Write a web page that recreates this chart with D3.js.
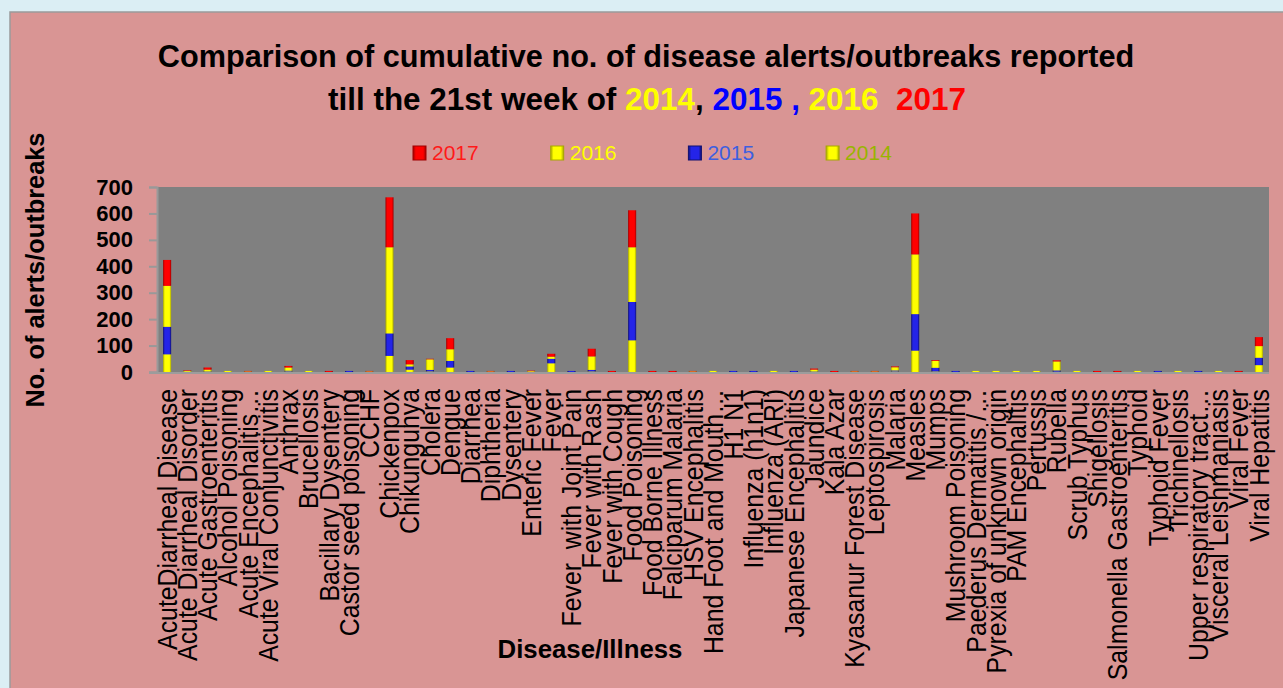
<!DOCTYPE html>
<html lang="en">
<head>
<meta charset="UTF-8" />
<title>Disease alerts/outbreaks till week 21</title>
<script src="https://d3js.org/d3.v7.min.js"></script>
<style>
  body, html { margin: 0; padding: 0; background: #dbeef4; }
  text { font-family: "Liberation Sans", Arial, sans-serif; }
</style>
</head>
<body>
<div id="chart"></div>
<script>
const categories = [
  "AcuteDiarrheal Disease", "Acute Diarrheal Disorder", "Acute Gastroenteritis", "Alcohol Poisoning",
  "Acute Encephalitis\u2026", "Acute Viral Conjunctivitis", "Anthrax", "Brucellosis",
  "Bacillary Dysentery", "Castor seed poisoning", "CCHF", "Chickenpox", "Chikungunya", "Cholera",
  "Dengue", "Diarrhea", "Diphtheria", "Dysentery", "Enteric Fever", "Fever", "Fever  with Joint Pain",
  "Fever with Rash", "Fever with Cough", "Food Poisoning", "Food Borne Illness", "Falciparum Malaria",
  "HSV Encephalitis", "Hand Foot and Mouth\u2026", "H1 N1", "Influenza (h1n1)", "Influenza (ARI)",
  "Japanese Encephalitis", "Jaundice", "Kala Azar", "Kyasanur Forest Disease", "Leptospirosis",
  "Malaria", "Measles", "Mumps", "Mushroom Poisoning", "Paederus Dermatitis /\u2026",
  "Pyrexia of unknown origin", "PAM Encephalitis", "Pertussis", "Rubella", "Scrub Typhus",
  "Shigellosis", "Salmonella Gastroenteritis", "Typhoid", "Typhoid Fever", "Trichinellosis",
  "Upper respiratory tract\u2026", "Visceral Leishmaniasis", "Viral Fever", "Viral Hepatitis"
];

const years = ["2014", "2015", "2016", "2017"];

const values2014 = [67, 2, 2, 0, 0, 0, 2, 0, 0, 0, 0, 61, 9, 2, 17, 0, 0, 0, 0, 33, 0, 2, 0, 120, 0, 0, 0, 0, 0, 0, 0, 0, 2, 0, 0, 0, 2, 81, 2, 0, 0, 0, 0, 0, 1, 0, 0, 0, 0, 0, 0, 0, 0, 0, 26];
const values2015 = [104, 0, 1, 0, 0, 0, 3, 0, 0, 4, 0, 85, 12, 6, 25, 4, 0, 4, 0, 17, 4, 6, 0, 145, 0, 0, 0, 0, 4, 4, 0, 4, 1, 0, 0, 0, 4, 138, 14, 4, 0, 0, 0, 0, 5, 0, 0, 0, 0, 4, 0, 4, 0, 0, 28];
const values2016 = [155, 2, 6, 4, 2, 4, 12, 4, 0, 0, 2, 326, 8, 40, 44, 0, 2, 0, 3, 8, 0, 51, 0, 207, 0, 0, 2, 4, 0, 0, 4, 0, 6, 0, 2, 2, 12, 226, 26, 0, 4, 4, 4, 4, 34, 4, 0, 0, 4, 0, 4, 0, 4, 0, 44];
const values2017 = [98, 2, 8, 0, 2, 0, 6, 0, 4, 0, 2, 189, 16, 2, 42, 0, 2, 0, 2, 11, 0, 29, 4, 140, 4, 4, 2, 0, 0, 0, 0, 0, 4, 4, 2, 2, 3, 155, 3, 0, 0, 0, 0, 0, 4, 0, 4, 4, 0, 0, 0, 0, 0, 4, 34];

const yTicks = [0, 100, 200, 300, 400, 500, 600, 700];

const seriesColors = {
  "2014": { base: "#ffff00", dark: "#a8a800" },
  "2015": { base: "#2424e8", dark: "#101070" },
  "2016": { base: "#ffff00", dark: "#a8a800" },
  "2017": { base: "#ff0000", dark: "#a00000" }
};
const legendText = { "2017": "#ff1a1a", "2016": "#ffff00", "2015": "#3d5fe0", "2014": "#98b400" };

const width = 1283, height = 688;
const plot = { left: 157, right: 1269, top: 187, bottom: 372 };

const svg = d3.select("#chart").append("svg")
  .attr("width", width)
  .attr("height", height)
  .style("display", "block");

// gradients to imitate the bevelled bars
const defs = svg.append("defs");
years.forEach(k => {
  const g = defs.append("linearGradient").attr("id", "grad" + k)
    .attr("x1", "0%").attr("x2", "100%").attr("y1", "0%").attr("y2", "0%");
  g.append("stop").attr("offset", "0%").attr("stop-color", seriesColors[k].dark);
  g.append("stop").attr("offset", "22%").attr("stop-color", seriesColors[k].base);
  g.append("stop").attr("offset", "78%").attr("stop-color", seriesColors[k].base);
  g.append("stop").attr("offset", "100%").attr("stop-color", seriesColors[k].dark);
});

// chart area
svg.append("rect")
  .attr("x", 10).attr("y", 12)
  .attr("width", width).attr("height", height)
  .attr("fill", "#d99594")
  .attr("stroke", "#9b9b9b")
  .attr("stroke-width", 1.5);

const x = d3.scaleBand().domain(categories).range([plot.left, plot.right]).padding(0);
const y = d3.scaleLinear().domain([0, 700]).range([plot.bottom, plot.top]);

svg.append("rect")
  .attr("x", plot.left).attr("y", plot.top)
  .attr("width", plot.right - plot.left).attr("height", plot.bottom - plot.top)
  .attr("fill", "#808080");

// stacked bars
const rows = categories.map((c, i) => ({
  name: c, "2014": values2014[i], "2015": values2015[i], "2016": values2016[i], "2017": values2017[i]
}));
const stacked = d3.stack().keys(years)(rows);
const barW = x.bandwidth() * 0.4;

svg.append("g").selectAll("g")
  .data(stacked)
  .join("g")
  .attr("fill", d => `url(#grad${d.key})`)
  .selectAll("rect")
  .data(d => d)
  .join("rect")
  .attr("x", d => x(d.data.name) + (x.bandwidth() - barW) / 2)
  .attr("y", d => y(d[1]))
  .attr("width", barW)
  .attr("height", d => y(d[0]) - y(d[1]));

// y axis
const yAxis = svg.append("g")
  .attr("transform", `translate(${plot.left},0)`)
  .call(d3.axisLeft(y).tickValues(yTicks).tickSize(8).tickPadding(16));
yAxis.select(".domain").attr("stroke", "#999").attr("stroke-width", 2);
yAxis.selectAll(".tick line").attr("stroke", "#999").attr("stroke-width", 2);
yAxis.selectAll(".tick text")
  .attr("fill", "#000")
  .style("font-family", "'Liberation Sans', Arial, sans-serif")
  .style("font-size", "22px")
  .style("font-weight", "bold");

// x axis line
svg.append("line")
  .attr("x1", plot.left - 8).attr("x2", plot.right)
  .attr("y1", y(0) + 1).attr("y2", y(0) + 1)
  .attr("stroke", "#9c9c9c").attr("stroke-width", 2);

// category labels
svg.append("g").selectAll("text")
  .data(categories)
  .join("text")
  .attr("transform", d => `translate(${x(d) + x.bandwidth() / 2},389) rotate(-90) scale(0.92,1)`)
  .attr("dy", "0.36em")
  .attr("text-anchor", "end")
  .style("font-size", "27px")
  .style("white-space", "pre")
  .attr("fill", "#000")
  .text(d => d);

// stretch a text element so it spans a given length
function fit(sel, cx, cy, len, rot) {
  const w = sel.node().getComputedTextLength();
  sel.attr("text-anchor", "middle")
    .attr("transform", `translate(${cx},${cy})${rot ? " rotate(-90)" : ""} scale(${len / w},1)`);
}

// titles
const t1 = svg.append("text")
  .style("font-size", "32px").style("font-weight", "bold")
  .text("Comparison of cumulative no. of disease alerts/outbreaks reported");
fit(t1, 646, 67, 977);

const titleParts = [
  ["till the 21st week of ", "#000"],
  ["2014", "#ffff00"],
  [",", "#000"],
  [" 2015 ,", "#0000ff"],
  [" 2016 ", "#ffff00"],
  [" 2017", "#ff0000"]
];
const t2 = svg.append("text")
  .style("font-size", "32px").style("font-weight", "bold")
  .style("white-space", "pre");
t2.selectAll("tspan").data(titleParts).join("tspan")
  .attr("fill", d => d[1]).text(d => d[0]);
fit(t2, 647, 110, 638);

// legend
const legendYears = ["2017", "2016", "2015", "2014"];
const legend = svg.append("g").selectAll("g")
  .data(legendYears)
  .join("g")
  .attr("transform", (d, i) => `translate(${413 + i * 137.7},146)`);
legend.append("rect")
  .attr("width", 13).attr("height", 14)
  .attr("fill", d => `url(#grad${d})`)
  .attr("stroke", d => seriesColors[d].dark).attr("stroke-width", 1);
legend.append("text")
  .attr("x", 19).attr("y", 14)
  .attr("fill", d => legendText[d])
  .style("font-size", "21px")
  .text(d => d);

// axis titles
const yTitle = svg.append("text")
  .style("font-size", "26px").style("font-weight", "bold")
  .text("No. of alerts/outbreaks");
fit(yTitle, 44, 270, 275, true);

const xTitle = svg.append("text")
  .style("font-size", "25px").style("font-weight", "bold")
  .text("Disease/Illness");
fit(xTitle, 590, 658, 185);
</script>
</body>
</html>
